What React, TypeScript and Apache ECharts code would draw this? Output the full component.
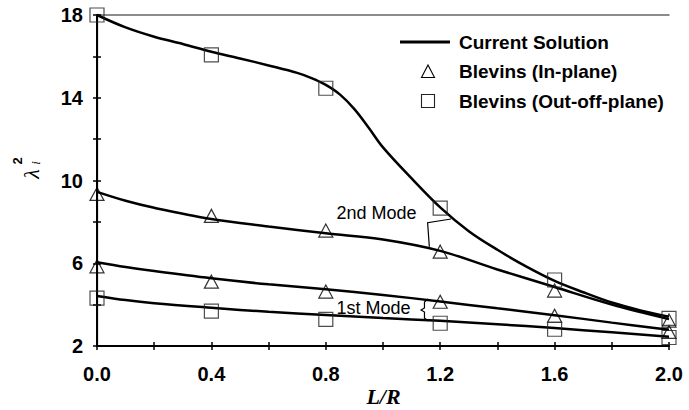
import React, { useEffect, useRef } from "react";
import * as echarts from "echarts";

// Blevins reference values (markers)
const markerX = [0, 0.4, 0.8, 1.2, 1.6, 2.0];
const inPlaneMode1 = [5.85, 5.11, 4.63, 4.14, 3.46, 2.68];
const inPlaneMode2 = [9.35, 8.29, 7.58, 6.56, 4.68, 3.23];
const outPlaneMode1 = [4.31, 3.69, 3.29, 3.1, 2.81, 2.41];
const outPlaneMode2 = [18, 16.07, 14.46, 8.66, 5.19, 3.34];

// Current solution curves
const solOut2X = [0, 0.1, 0.2, 0.3, 0.4, 0.5, 0.6, 0.7, 0.75, 0.8, 0.85, 0.9, 0.95, 1.0, 1.1, 1.2, 1.3, 1.4, 1.5, 1.6, 1.7, 1.8, 1.9, 2.0];
const solOut2Y = [18, 17.4, 16.95, 16.6, 16.22, 15.9, 15.56, 15.2, 14.95, 14.62, 14.15, 13.45, 12.55, 11.6, 10.1, 8.7, 7.55, 6.65, 5.85, 5.15, 4.6, 4.1, 3.72, 3.42];
const solX = [0, 0.1, 0.2, 0.4, 0.6, 0.8, 1.0, 1.2, 1.4, 1.6, 1.8, 2.0];
const solIn2Y = [9.45, 9.02, 8.68, 8.14, 7.78, 7.45, 7.15, 6.6, 5.7, 4.85, 4.0, 3.3];
const solIn1Y = [6.05, 5.82, 5.62, 5.27, 4.98, 4.74, 4.47, 4.15, 3.82, 3.49, 3.13, 2.78];
const solOut1Y = [4.42, 4.22, 4.07, 3.85, 3.65, 3.5, 3.35, 3.22, 3.05, 2.87, 2.66, 2.45];

// Legend entries
const legendNames = ["Current Solution", "Blevins (In-plane)", "Blevins (Out-off-plane)"];

// Annotation anchors (data coordinates)
const mode2Label = [0.977, 8.43];
const mode2Bracket = [[1.238, 8.14], [1.156, 7.96], [1.162, 6.8]];
const mode1Label = [0.967, 3.84];
const mode1Brace = [[1.158, 4.28], [1.145, 4.12], [1.145, 3.84], [1.133, 3.74], [1.145, 3.64], [1.145, 3.36], [1.158, 3.2]];

const SANS = '"Liberation Sans", Arial, sans-serif';
const SERIF = '"Liberation Serif", "Times New Roman", serif';

export default function App() {
  const ref = useRef<HTMLDivElement>(null);

  useEffect(() => {
    const chart = echarts.init(ref.current!, null, { renderer: "svg" });
    const pair = (xs: number[], ys: number[]) => xs.map((x, i) => [x, ys[i]]);
    const tickLabel = { fontFamily: SANS, fontWeight: "bold" as const, fontSize: 20, color: "#000" };

    const curve = (xs: number[], ys: number[]) => ({
      type: "line",
      name: legendNames[0],
      data: pair(xs, ys),
      symbol: "none",
      smooth: 0.35,
      clip: false,
      lineStyle: { color: "#000", width: 2.5 },
      itemStyle: { color: "#000" },
      z: 2,
    });
    const markers = (name: string, ys: number[], symbol: string, size: any, stroke: string) => ({
      type: "scatter",
      name,
      data: pair(markerX, ys),
      symbol,
      symbolSize: size,
      clip: false,
      itemStyle: { color: "rgba(0,0,0,0)", borderColor: stroke, borderWidth: 1.2 },
      z: 3,
    });

    const xCommon = { type: "value", min: 0, max: 2, interval: 0.2, splitLine: { show: false } };
    const yCommon = { type: "value", min: 2, max: 18, interval: 2, splitLine: { show: false } };

    chart.setOption({
      animation: false,
      grid: { left: 97, right: 20, top: 15, bottom: 64 },
      xAxis: [
        {
          ...xCommon,
          position: "bottom",
          axisLine: { show: true, lineStyle: { color: "#000", width: 2 } },
          axisTick: { show: true, inside: false, length: 4, lineStyle: { color: "#000", width: 1.5 } },
          axisLabel: {
            ...tickLabel,
            margin: 18,
            formatter: (v: number) => (Math.round(v * 10) % 4 === 0 ? v.toFixed(1) : ""),
          },
        },
        {
          ...xCommon,
          position: "bottom",
          axisLine: { show: false },
          axisTick: { show: true, inside: true, length: 4, lineStyle: { color: "#000", width: 1.5 } },
          axisLabel: { show: false },
        },
        {
          ...xCommon,
          position: "top",
          axisLine: { show: true, lineStyle: { color: "#666", width: 1.5 } },
          axisTick: { show: false },
          axisLabel: { show: false },
        },
      ],
      yAxis: [
        {
          ...yCommon,
          position: "left",
          axisLine: { show: true, lineStyle: { color: "#000", width: 2 } },
          axisTick: { show: true, inside: false, length: 4, lineStyle: { color: "#000", width: 1.5 } },
          axisLabel: {
            ...tickLabel,
            margin: 14,
            formatter: (v: number) => (Math.round(v - 2) % 4 === 0 ? String(v) : ""),
          },
        },
        {
          ...yCommon,
          position: "left",
          axisLine: { show: false },
          axisTick: { show: true, inside: true, length: 4, lineStyle: { color: "#000", width: 1.5 } },
          axisLabel: { show: false },
        },
        {
          ...yCommon,
          position: "right",
          axisLine: { show: true, lineStyle: { color: "#000", width: 1.2 } },
          axisTick: { show: false },
          axisLabel: { show: false },
        },
      ],
      series: [
        curve(solOut2X, solOut2Y),
        curve(solX, solIn2Y),
        curve(solX, solIn1Y),
        curve(solX, solOut1Y),
        markers(legendNames[1], inPlaneMode2, "triangle", [14, 13], "#000"),
        markers(legendNames[1], inPlaneMode1, "triangle", [14, 13], "#000"),
        markers(legendNames[2], outPlaneMode2, "rect", 14, "#222"),
        markers(legendNames[2], outPlaneMode1, "rect", 14, "#222"),
      ],
    });

    const finder = { xAxisIndex: 0, yAxisIndex: 0 };
    const px = (p: number[]) => chart.convertToPixel(finder, p) as number[];
    const l2 = px(mode2Label);
    const l1 = px(mode1Label);

    const legendRowY = [42, 71.5, 101];
    const legendText = (i: number) => ({
      type: "text",
      x: 459,
      y: legendRowY[i],
      style: {
        text: legendNames[i],
        font: `bold 19px ${SANS}`,
        fill: "#000",
        align: "left",
        verticalAlign: "middle",
      },
    });

    chart.setOption({
      graphic: [
        // legend
        {
          type: "line",
          shape: { x1: 400, y1: legendRowY[0], x2: 450, y2: legendRowY[0] },
          style: { stroke: "#000", lineWidth: 3 },
        },
        {
          type: "polygon",
          shape: {
            points: [
              [428, legendRowY[1] - 6.5],
              [434.5, legendRowY[1] + 6],
              [421.5, legendRowY[1] + 6],
            ],
          },
          style: { stroke: "#000", lineWidth: 1.1, fill: null },
        },
        {
          type: "rect",
          shape: { x: 421.5, y: legendRowY[2] - 6.5, width: 13, height: 13 },
          style: { stroke: "#222", lineWidth: 1.1, fill: null },
        },
        legendText(0),
        legendText(1),
        legendText(2),
        // annotations
        {
          type: "text",
          x: l2[0],
          y: l2[1],
          style: { text: "2nd Mode", font: `18px ${SANS}`, fill: "#000", align: "center", verticalAlign: "middle" },
        },
        {
          type: "text",
          x: l1[0],
          y: l1[1],
          style: { text: "1st Mode", font: `18px ${SANS}`, fill: "#000", align: "center", verticalAlign: "middle" },
        },
        {
          type: "polyline",
          shape: { points: mode2Bracket.map(px) },
          style: { stroke: "#000", lineWidth: 1.2, fill: null },
        },
        {
          type: "polyline",
          shape: { points: mode1Brace.map(px) },
          style: { stroke: "#000", lineWidth: 1.2, fill: null },
        },
        // axis titles
        {
          type: "text",
          x: 383.5,
          y: 396,
          style: {
            text: "L/R",
            font: `italic bold 22px ${SERIF}`,
            fill: "#000",
            align: "center",
            verticalAlign: "middle",
          },
        },
        {
          type: "text",
          x: 31,
          y: 174,
          rotation: Math.PI / 2,
          style: { text: "λ", font: `italic 22px ${SERIF}`, fill: "#000", align: "center", verticalAlign: "middle" },
        },
        {
          type: "text",
          x: 17,
          y: 161,
          rotation: Math.PI / 2,
          style: { text: "2", font: `bold 13px ${SANS}`, fill: "#000", align: "center", verticalAlign: "middle" },
        },
        {
          type: "text",
          x: 35,
          y: 163,
          rotation: Math.PI / 2,
          style: { text: "i", font: `italic 13px ${SERIF}`, fill: "#000", align: "center", verticalAlign: "middle" },
        },
      ],
    });

    return () => chart.dispose();
  }, []);

  return <div ref={ref} style={{ width: 689, height: 410, position: "absolute", left: 0, top: 0 }} />;
}
